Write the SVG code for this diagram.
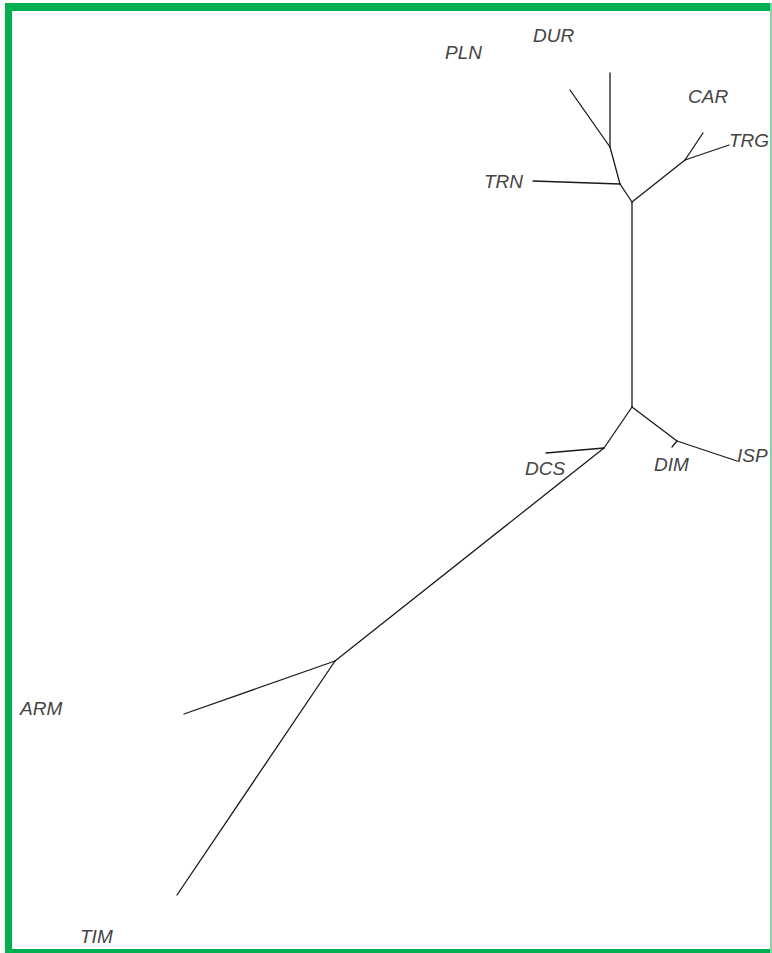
<svg xmlns="http://www.w3.org/2000/svg" width="772" height="953" viewBox="0 0 772 953">
<style>
.b{stroke:#1a1a1a;stroke-width:1.3;fill:none;stroke-linecap:round}
.t{font-family:"Liberation Sans",Arial,sans-serif;font-style:italic;font-size:19px;fill:#444}
</style>
<rect x="0" y="0" width="772" height="953" fill="#fff"/>
<g id="frame" fill="#00b050">
<rect x="5" y="3" width="767" height="8"/>
<rect x="5" y="3" width="7" height="950"/>
<rect x="5" y="949" width="767" height="4"/>
<rect x="770" y="3" width="2" height="950" fill="#7fd7a7"/>
</g>
<g id="connectors">
<line class="b" x1="632" y1="202" x2="632" y2="407"/>
<line class="b" x1="632" y1="202" x2="620" y2="184"/>
<line class="b" x1="620" y1="184" x2="533" y2="181"/>
<line class="b" x1="620" y1="184" x2="610" y2="147"/>
<line class="b" x1="610" y1="147" x2="610" y2="73"/>
<line class="b" x1="610" y1="147" x2="570" y2="90"/>
<line class="b" x1="632" y1="202" x2="685" y2="160"/>
<line class="b" x1="685" y1="160" x2="703" y2="133"/>
<line class="b" x1="685" y1="160" x2="729" y2="145"/>
<line class="b" x1="632" y1="407" x2="604" y2="448"/>
<line class="b" x1="604" y1="448" x2="546" y2="453"/>
<line class="b" x1="604" y1="448" x2="335" y2="661"/>
<line class="b" x1="335" y1="661" x2="184" y2="714"/>
<line class="b" x1="335" y1="661" x2="177" y2="895"/>
<line class="b" x1="632" y1="407" x2="677" y2="441"/>
<line class="b" x1="677" y1="441" x2="672" y2="447"/>
<line class="b" x1="677" y1="441" x2="737" y2="461"/>
</g>
<g id="PLN"><text class="t" x="445" y="59">PLN</text></g>
<g id="DUR"><text class="t" x="533" y="42">DUR</text></g>
<g id="CAR"><text class="t" x="688" y="103">CAR</text></g>
<g id="TRG"><text class="t" x="729" y="147">TRG</text></g>
<g id="TRN"><text class="t" x="484" y="188">TRN</text></g>
<g id="DCS"><text class="t" x="525" y="475">DCS</text></g>
<g id="DIM"><text class="t" x="654" y="471">DIM</text></g>
<g id="ISP"><text class="t" x="737" y="462">ISP</text></g>
<g id="ARM"><text class="t" x="20" y="715">ARM</text></g>
<g id="TIM"><text class="t" x="80" y="943">TIM</text></g>
</svg>
